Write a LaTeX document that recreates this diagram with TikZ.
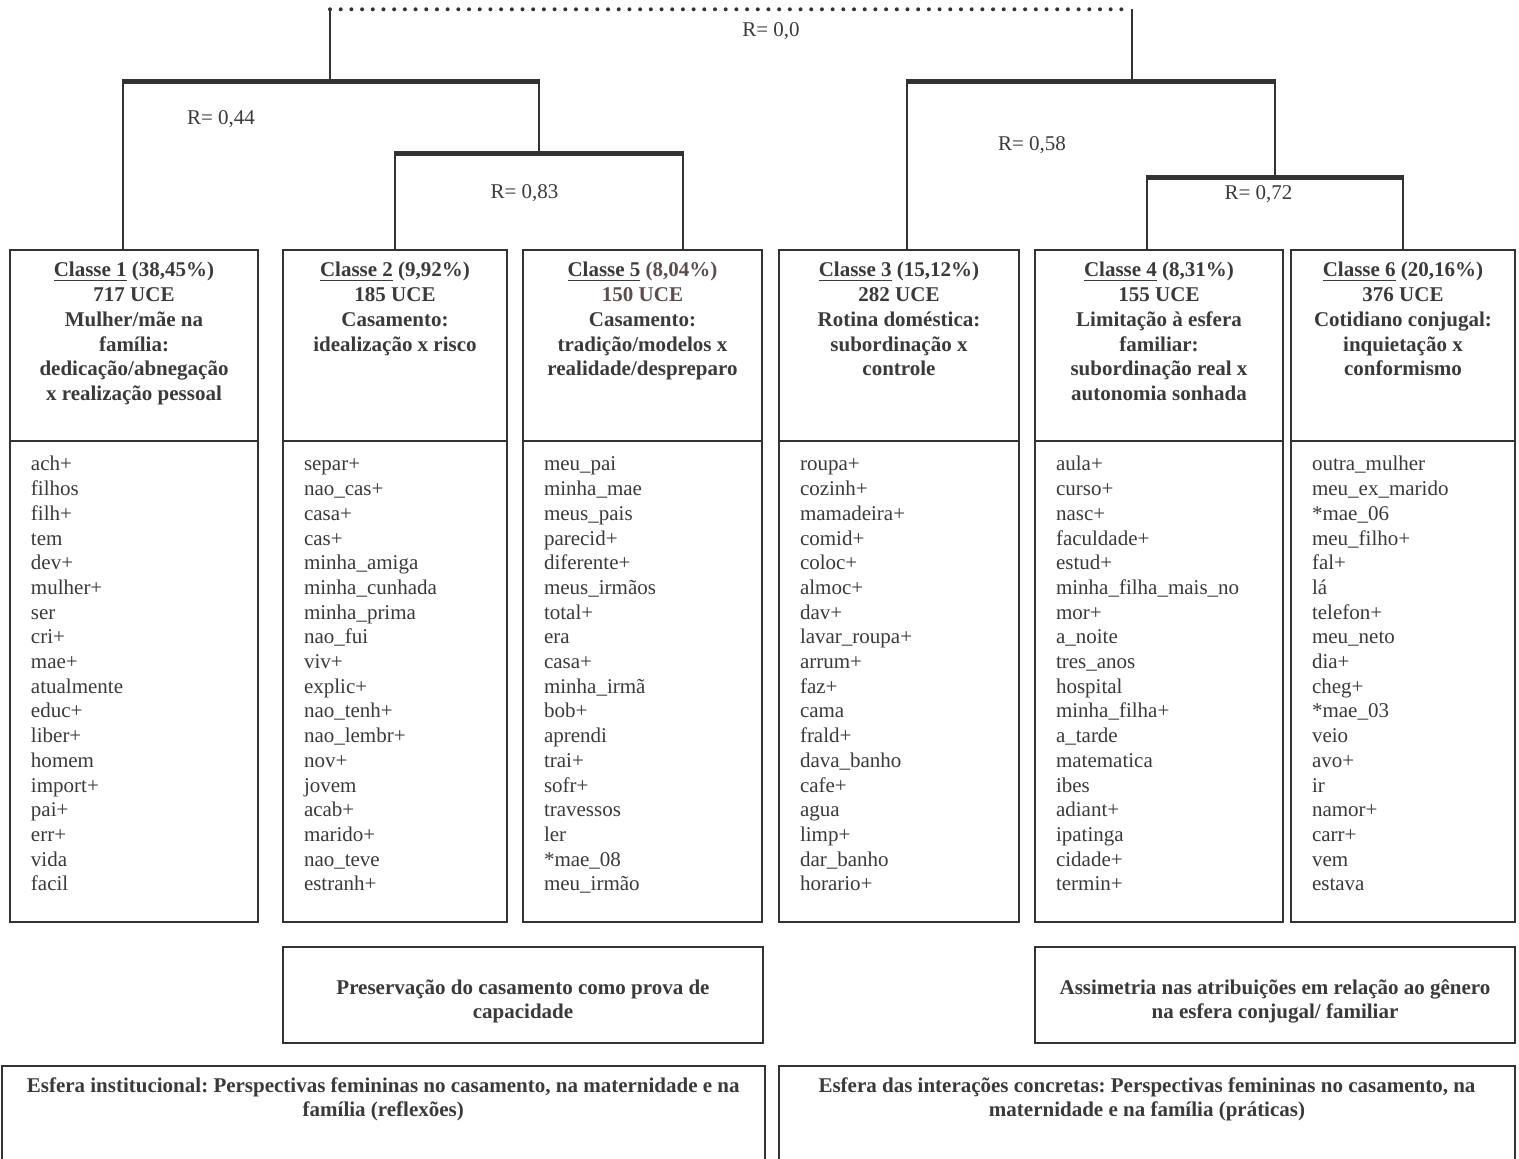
\documentclass[tikz,border=0pt]{standalone}
\usepackage{fontspec}
\setmainfont{Liberation Serif}
\usetikzlibrary{positioning}
\hyphenpenalty=10000
\exhyphenpenalty=10000
\frenchspacing

\definecolor{ink}{HTML}{333333}
\definecolor{txt}{HTML}{3A3A3A}
\definecolor{txtfive}{HTML}{5A4E4E}

\tikzset{
  stem/.style={draw=ink, line width=1pt},
  bar/.style={draw=ink, line width=2.3pt, shorten <=-0.5pt, shorten >=-0.5pt},
  dotline/.style={draw=ink, line width=2pt, line cap=round, dash pattern=on 0pt off 5.347pt},
  rlabel/.style={anchor=base, inner sep=0pt},
  headbox/.style={draw=ink, line width=1pt, anchor=north, outer sep=0pt, align=flush center,
    font=\fontsize{10.5}{12.35}\selectfont\bfseries,
    inner xsep=1pt, inner ysep=5.5pt, text height=8pt, text depth=76.5pt},
  listbox/.style={draw=ink, line width=1pt, outer sep=0pt, align=flush left,
    inner xsep=10.5pt, inner ysep=7pt, text height=8pt, text depth=218.5pt},
  notebox/.style={draw=ink, line width=1pt, anchor=north, align=flush center,
    font=\fontsize{10.5}{12.35}\selectfont\bfseries,
    inner xsep=2pt, inner ysep=15.5pt, text height=8pt, text depth=9pt},
  spherebox/.style={draw=ink, line width=1pt, anchor=north, align=flush center,
    font=\fontsize{10.5}{12.35}\selectfont\bfseries,
    inner xsep=2pt, inner ysep=5pt, text height=8pt, text depth=50pt}
}

\begin{document}
\begin{tikzpicture}[x=0.5pt, y=-0.5pt, text=txt, font=\fontsize{10.5}{12.35}\selectfont]
  \clip (0,0) rectangle (1519,1159);

  % Classes (header + word list)
  \node[headbox, text width=122pt] (h1) at (134,250)
    {\underline{Classe 1} (38,45\%)\\ 717 UCE\\ Mulher/mãe na\\ família:\\ dedicação/abnegação\\ x realização pessoal};
  \node[headbox, text width=110pt] (h2) at (395,250)
    {\underline{Classe 2} (9,92\%)\\ 185 UCE\\ Casamento:\\ idealização x risco};
  \node[headbox, text width=117.5pt] (h5) at (642.5,250)
    {\underline{Classe 5} \textcolor{txtfive}{(8,04\%)}\\ \textcolor{txtfive}{150 UCE}\\ Casamento:\\ tradição/modelos x\\ realidade/despreparo};
  \node[headbox, text width=118pt] (h3) at (899,250)
    {\underline{Classe 3} (15,12\%)\\ 282 UCE\\ Rotina doméstica:\\ subordinação x\\ controle};
  \node[headbox, text width=122pt] (h4) at (1159,250)
    {\underline{Classe 4} (8,31\%)\\ 155 UCE\\ Limitação à esfera\\ familiar:\\ subordinação real x\\ autonomia sonhada};
  \node[headbox, text width=110pt] (h6) at (1403,250)
    {\underline{Classe 6} (20,16\%)\\ 376 UCE\\ Cotidiano conjugal:\\ inquietação x\\ conformismo};

  \node[listbox, text width=103pt, below=0pt of h1] (l1)
    {ach+\\ filhos\\ filh+\\ tem\\ dev+\\ mulher+\\ ser\\ cri+\\ mae+\\ atualmente\\ educ+\\ liber+\\ homem\\ import+\\ pai+\\ err+\\ vida\\ facil};
  \node[listbox, text width=91pt, below=0pt of h2] (l2)
    {separ+\\ nao\_cas+\\ casa+\\ cas+\\ minha\_amiga\\ minha\_cunhada\\ minha\_prima\\ nao\_fui\\ viv+\\ explic+\\ nao\_tenh+\\ nao\_lembr+\\ nov+\\ jovem\\ acab+\\ marido+\\ nao\_teve\\ estranh+};
  \node[listbox, text width=98.5pt, below=0pt of h5] (l5)
    {meu\_pai\\ minha\_mae\\ meus\_pais\\ parecid+\\ diferente+\\ meus\_irmãos\\ total+\\ era\\ casa+\\ minha\_irmã\\ bob+\\ aprendi\\ trai+\\ sofr+\\ travessos\\ ler\\ {*}mae\_08\\ meu\_irmão};
  \node[listbox, text width=99pt, below=0pt of h3] (l3)
    {roupa+\\ cozinh+\\ mamadeira+\\ comid+\\ coloc+\\ almoc+\\ dav+\\ lavar\_roupa+\\ arrum+\\ faz+\\ cama\\ frald+\\ dava\_banho\\ cafe+\\ agua\\ limp+\\ dar\_banho\\ horario+};
  \node[listbox, text width=103pt, below=0pt of h4] (l4)
    {aula+\\ curso+\\ nasc+\\ faculdade+\\ estud+\\ minha\_filha\_mais\_no\\ mor+\\ a\_noite\\ tres\_anos\\ hospital\\ minha\_filha+\\ a\_tarde\\ matematica\\ ibes\\ adiant+\\ ipatinga\\ cidade+\\ termin+};
  \node[listbox, text width=91pt, below=0pt of h6] (l6)
    {outra\_mulher\\ meu\_ex\_marido\\ {*}mae\_06\\ meu\_filho+\\ fal+\\ lá\\ telefon+\\ meu\_neto\\ dia+\\ cheg+\\ {*}mae\_03\\ veio\\ avo+\\ ir\\ namor+\\ carr+\\ vem\\ estava};

  % Dendrogram
  \coordinate (top1) at (330,9.3);
  \coordinate (top2) at (1132,9.3);
  \coordinate (bL1) at (122.7,81.5);
  \coordinate (bR1) at (539,81.5);
  \coordinate (bL2) at (395,153.5);
  \coordinate (bR2) at (683,153.5);
  \coordinate (bL3) at (906.7,81.5);
  \coordinate (bR3) at (1275,81.5);
  \coordinate (bL4) at (1146.7,177.7);
  \coordinate (bR4) at (1402.7,177.7);

  \draw[dotline] (top1) -- (top2);
  \draw[stem] (top1) -- (top1 |- bL1);
  \draw[stem] (top2) -- (top2 |- bL3);

  \draw[bar] (bL1) -- (bR1);
  \draw[bar] (bL2) -- (bR2);
  \draw[bar] (bL3) -- (bR3);
  \draw[bar] (bL4) -- (bR4);

  \draw[stem] (bL1) -- (bL1 |- h1.north);
  \draw[stem] (bR1) -- (bR1 |- bL2);
  \draw[stem] (bL2) -- (bL2 |- h2.north);
  \draw[stem] (bR2) -- (bR2 |- h5.north);
  \draw[stem] (bL3) -- (bL3 |- h3.north);
  \draw[stem] (bR3) -- (bR3 |- bL4);
  \draw[stem] (bL4) -- (bL4 |- h4.north);
  \draw[stem] (bR4) -- (bR4 |- h6.north);

  \node[rlabel] (r0) at (771,37) {R= 0,0};
  \node[rlabel] (r44) at (221,125) {R= 0,44};
  \node[rlabel] (r83) at (524.5,198.7) {R= 0,83};
  \node[rlabel] (r58) at (1032,150.3) {R= 0,58};
  \node[rlabel] (r72) at (1258.5,199.7) {R= 0,72};

  % Syntheses
  \node[notebox, text width=236pt] (n1) at (523,946)
    {Preservação do casamento como prova de\\ capacidade};
  \node[notebox, text width=236pt] (n2) at (1275,946)
    {Assimetria nas atribuições em relação ao gênero\\ na esfera conjugal/ familiar};

  \node[spherebox, text width=377.75pt] (s1) at (383.25,1065)
    {Esfera institucional: Perspectivas femininas no casamento, na maternidade e na\\ família (reflexões)};
  \node[spherebox, text width=364pt] (s2) at (1147,1065)
    {Esfera das interações concretas: Perspectivas femininas no casamento, na\\ maternidade e na família (práticas)};
\end{tikzpicture}
\end{document}
